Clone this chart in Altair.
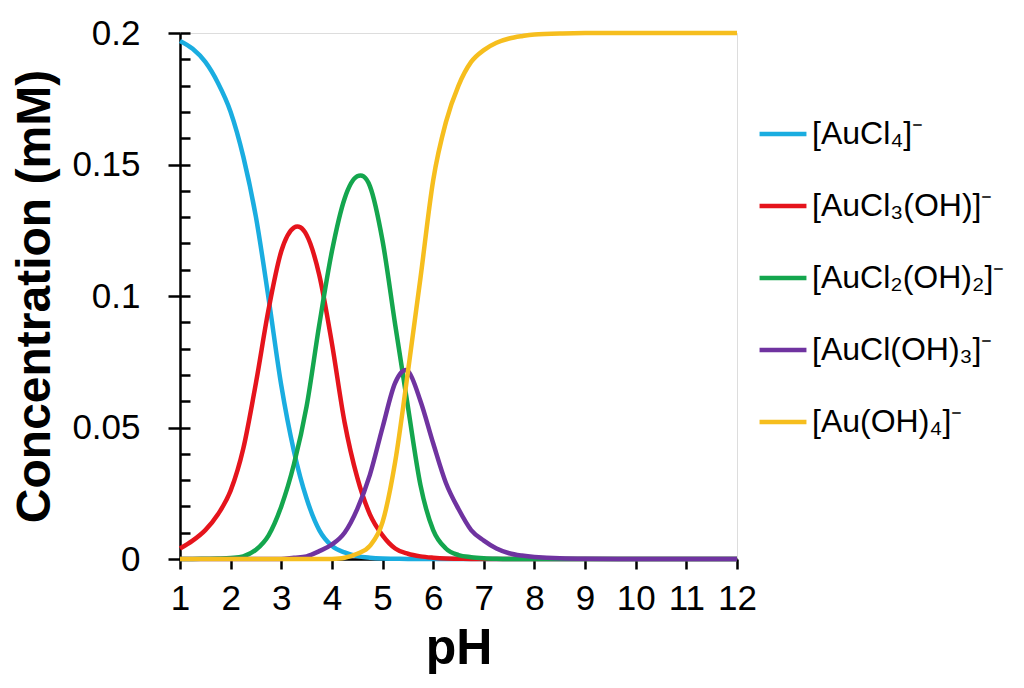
import altair as alt
import pandas as pd

# pH sample points
ph = [1.0, 1.25, 1.5, 1.75, 2.0, 2.25, 2.5, 2.75, 3.0, 3.25, 3.5, 3.75, 4.0, 4.25,
      4.5, 4.75, 5.0, 5.25, 5.5, 5.75, 6.0, 6.25, 6.5, 6.75, 7.0, 7.25, 7.5, 7.75,
      8.0, 8.5, 9.0, 10.0, 11.0, 12.0]

species = ["[AuCl₄]⁻", "[AuCl₃(OH)]⁻", "[AuCl₂(OH)₂]⁻", "[AuCl(OH)₃]⁻", "[Au(OH)₄]⁻"]
colors = ["#1AADE0", "#E5141C", "#14A64E", "#6F33A0", "#F6BE1E"]

aucl4 = [0.197, 0.194, 0.189, 0.181, 0.170, 0.153, 0.130, 0.099, 0.066, 0.041, 0.023,
         0.011, 0.005, 0.0025, 0.0011, 0.0005, 0.0002, 0.0001] + [0] * 16
aucl3oh = [0.004, 0.007, 0.011, 0.017, 0.026, 0.042, 0.067, 0.095, 0.117, 0.1260, 0.1232,
           0.108, 0.082, 0.052, 0.031, 0.017, 0.009, 0.004, 0.002, 0.001, 0.0005, 0.0002,
           0.0001] + [0] * 11
aucl2oh2 = [0, 0, 0.0001, 0.0002, 0.0004, 0.001, 0.0035, 0.009, 0.020, 0.036, 0.058, 0.089,
            0.117, 0.137, 0.1455, 0.1418, 0.121, 0.089, 0.058, 0.028, 0.011, 0.004, 0.0015,
            0.0007, 0.0003, 0.0001] + [0] * 8
auclo3 = [0] * 9 + [0.0005, 0.001, 0.003, 0.0055, 0.010, 0.019, 0.032, 0.050, 0.067, 0.0715,
                    0.060, 0.044, 0.029, 0.019, 0.011, 0.007, 0.004, 0.0022, 0.0013, 0.0008,
                    0.0003, 0.0001] + [0] * 3
auoh4 = [0] * 13 + [0.0005, 0.002, 0.005, 0.014, 0.037, 0.071, 0.107, 0.144, 0.166, 0.180,
                    0.189, 0.1935, 0.1963, 0.1979, 0.1988, 0.1994, 0.1998] + [0.2] * 4

y_major = [0, 0.05, 0.1, 0.15, 0.2]
y_minor = [round(i * 0.01, 2) for i in range(21)]
x_ticks = list(range(1, 13))

series = [aucl4, aucl3oh, aucl2oh2, auclo3, auoh4]
rows = []
for k, (name, vals) in enumerate(zip(species, series)):
    assert len(vals) == len(ph)
    for p, v in zip(ph, vals):
        rows.append({"pH": p, "c": v, "species": name, "order": k})
df = pd.DataFrame(rows)

FONT = "Liberation Sans"
W, H = 557, 526

xenc = alt.X("pH:Q", scale=alt.Scale(domain=[1, 12], nice=False),
             axis=alt.Axis(values=x_ticks, tickSize=10, tickWidth=2.5, domainWidth=2.5,
                           domainColor="black", tickColor="black", labelFontSize=35,
                           labelFont=FONT, labelColor="black", labelPadding=12,
                           labelFlush=False, labelOverlap=False, grid=False,
                           title="pH", titleFont=FONT, titleFontSize=50,
                           titleFontWeight="bold", titleColor="black", titlePadding=7))

yscale = alt.Scale(domain=[0, 0.2], nice=False)

lines = alt.Chart(df).mark_line(strokeWidth=4.5, interpolate="cardinal", tension=0).encode(
    x=xenc,
    y=alt.Y("c:Q", scale=yscale,
            axis=alt.Axis(values=y_major, format=".2~f", tickSize=12, tickWidth=2.5,
                          domainWidth=2.5, domainColor="black", tickColor="black",
                          labelFontSize=35, labelFont=FONT, labelColor="black",
                          labelPadding=28, grid=False, labelFlush=False,
                          title="Concentration (mM)", titleFont=FONT, titleFontSize=48,
                          titleFontWeight="bold", titleColor="black", titlePadding=12)),
    color=alt.Color("species:N", scale=alt.Scale(domain=species, range=colors),
                    legend=alt.Legend(orient="none", legendX=577, legendY=75,
                                      title=None, symbolType="stroke", symbolSize=2200,
                                      symbolStrokeWidth=4.5, labelFontSize=32,
                                      labelFont=FONT, labelColor="black", labelLimit=400,
                                      labelOffset=3, rowPadding=30)),
    order=alt.Order("order:Q"),
    detail="species:N",
)

minor = alt.Chart(df).mark_line(opacity=0).encode(
    x=xenc,
    y=alt.Y("c:Q", scale=yscale,
            axis=alt.Axis(orient="right", offset=-W, values=y_minor, tickSize=10,
                          tickWidth=2.5, tickColor="black", labels=False, domain=False,
                          grid=False, title=None)),
)

chart = alt.layer(minor, lines).resolve_scale(y="shared").resolve_axis(
    y="independent").properties(
    width=W, height=H,
    padding={"left": 172, "top": 25, "right": 270, "bottom": 118},
    autosize=alt.AutoSizeParams(type="none"),
).configure_view(stroke="black", strokeWidth=2.5).configure(background="white")

chart.save("out.html", embed_options={"renderer": "svg", "actions": False})
